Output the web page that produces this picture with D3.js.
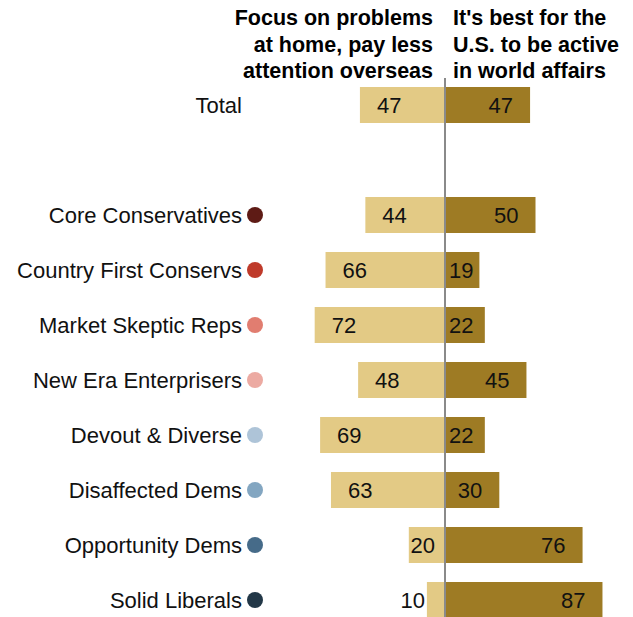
<!DOCTYPE html>
<html>
<head>
<meta charset="utf-8">
<script src="https://cdn.jsdelivr.net/npm/d3@7/dist/d3.min.js"></script>
<style>
  html, body { margin: 0; padding: 0; background: #fff; }
  svg { display: block; font-family: "Liberation Sans", Arial, sans-serif; }
</style>
</head>
<body>
<svg id="chart" width="633" height="617"></svg>
<script>
// ---- data ----
const categories = ["Total", "Core Conservatives", "Country First Conservs", "Market Skeptic Reps",
  "New Era Enterprisers", "Devout & Diverse", "Disaffected Dems", "Opportunity Dems", "Solid Liberals"];
const focusHome = [47, 44, 66, 72, 48, 69, 63, 20, 10];
const beActive = [47, 50, 19, 22, 45, 22, 30, 76, 87];
const dotColors = [null, "#5E1B15", "#BF3A2A", "#E17D70", "#ECAAA2", "#AEC4D8", "#83A6C1", "#466B89", "#223747"];
const headerLeft = ["Focus on problems", "at home, pay less", "attention overseas"];
const headerRight = ["It's best for the", "U.S. to be active", "in world affairs"];

const svg = d3.select("#chart");
const cx = 445;
const barH = 36;
const fs = 22;
const hfs = 21.5;

// row scale: Total, a gap, then the groups
const rowDomain = ["Total", "__gap", ...categories.slice(1)];
const y = d3.scalePoint().domain(rowDomain).range([105, 600]);
const xL = d3.scaleLinear().domain([0, 100]).range([cx, cx - 181]);
const xR = d3.scaleLinear().domain([0, 100]).range([cx, cx + 181]);

const rows = categories.map((c, i) => ({ c, l: focusHome[i], r: beActive[i], dot: dotColors[i] }));

// headers
const hL = svg.append("text").attr("font-weight", "bold").attr("font-size", hfs)
  .attr("fill", "#000").attr("text-anchor", "end");
headerLeft.forEach((t, i) => hL.append("tspan").attr("x", cx - 12).attr("y", 25 + i * 26.5).text(t));
const hR = svg.append("text").attr("font-weight", "bold").attr("font-size", hfs)
  .attr("fill", "#000").attr("text-anchor", "start");
headerRight.forEach((t, i) => hR.append("tspan").attr("x", cx + 8).attr("y", 25 + i * 26.5).text(t));

const g = svg.selectAll("g.row").data(rows).join("g").attr("class", "row");

// left bars
g.append("rect")
  .attr("x", d => xL(d.l)).attr("y", d => y(d.c) - barH / 2)
  .attr("width", d => cx - xL(d.l)).attr("height", barH)
  .attr("fill", "#E3CA85");
// right bars
g.append("rect")
  .attr("x", cx).attr("y", d => y(d.c) - barH / 2)
  .attr("width", d => xR(d.r) - cx).attr("height", barH)
  .attr("fill", "#9E7B24");

// category labels
g.append("text")
  .attr("x", 242).attr("y", d => y(d.c)).attr("dy", "0.35em")
  .attr("text-anchor", "end").attr("font-size", fs).attr("fill", "#111")
  .text(d => d.c);

// dots
g.filter(d => d.dot).append("circle")
  .attr("cx", 255).attr("cy", d => y(d.c)).attr("r", 8)
  .attr("fill", d => d.dot);

// value labels
g.each(function(d) {
  const row = d3.select(this);
  const yy = y(d.c);
  // left
  const lt = row.append("text").attr("y", yy).attr("dy", "0.35em")
    .attr("font-size", fs).attr("fill", "#111").text(d.l);
  const lw = lt.node().getComputedTextLength();
  const barStart = xL(d.l);
  if (cx - barStart < lw + 4) {
    lt.attr("text-anchor", "end").attr("x", barStart - 2);
  } else {
    let sx = barStart + 17;
    if (sx + lw > cx - 10) sx = Math.max(barStart, cx - 10 - lw);
    lt.attr("text-anchor", "start").attr("x", sx);
  }
  // right
  const rt = row.append("text").attr("y", yy).attr("dy", "0.35em")
    .attr("font-size", fs).attr("fill", "#111").text(d.r);
  const rw = rt.node().getComputedTextLength();
  const barEnd = xR(d.r);
  let ex = barEnd - 17;
  if (ex - rw < cx + 4) ex = cx + 4 + rw;
  rt.attr("text-anchor", "end").attr("x", ex);
});

// center line
svg.append("line").attr("x1", cx).attr("x2", cx).attr("y1", 78).attr("y2", 617)
  .attr("stroke", "#8a8a8a").attr("stroke-width", 2);
</script>
</body>
</html>
